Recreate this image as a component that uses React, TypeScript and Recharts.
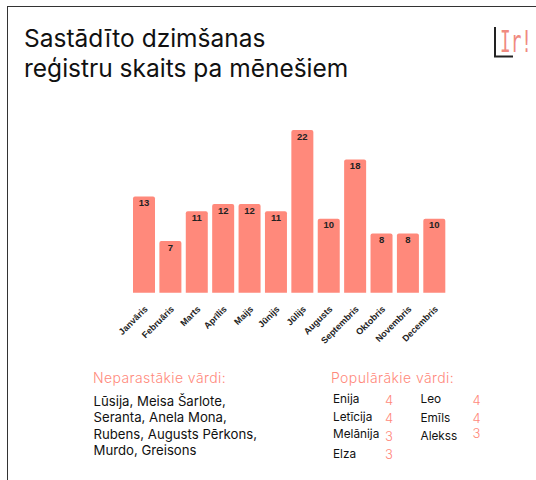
import React from "react";
import { BarChart, Bar, XAxis, YAxis, LabelList } from "recharts";

const months = ["Janvāris", "Februāris", "Marts", "Aprīlis", "Maijs", "Jūnijs", "Jūlijs", "Augusts", "Septembris", "Oktobris", "Novembris", "Decembris"];
const counts = [13, 7, 11, 12, 12, 11, 22, 10, 18, 8, 8, 10];

const titleLines = ["Sastādīto dzimšanas", "reģistru skaits pa mēnešiem"];
const rareTitle = "Neparastākie vārdi:";
const rareLines = ["Lūsija, Meisa Šarlote,", "Seranta, Anela Mona,", "Rubens, Augusts Pērkons,", "Murdo, Greisons"];
const popularTitle = "Populārākie vārdi:";
const popularNamesA = ["Enija", "Letīcija", "Melānija", "Elza"];
const popularCountsA = [4, 4, 3, 3];
const popularNamesB = ["Leo", "Emīls", "Alekss"];
const popularCountsB = [4, 4, 3];

const data = months.map((m, i) => ({ month: m, value: counts[i] }));

const SALMON = "#ff897b";
const TEXT_FONT = "Inter, 'DejaVu Sans', sans-serif";

const MonthTick = (props: any) => {
  const { x, y, payload } = props;
  return (
    <text
      x={x + 4}
      y={y + 9}
      transform={`rotate(-45, ${x + 4}, ${y + 9})`}
      textAnchor="end"
      fontSize={9}
      fontWeight="bold"
      fontFamily="'Liberation Sans', Arial, sans-serif"
      fill="#222"
    >
      {payload.value}
    </text>
  );
};

export default function App() {
  const nameRowsA = [402.7, 420.7, 438.3, 458.3];
  const numRowsA = [404.5, 422.5, 440.5, 459];
  const nameRowsB = [402.7, 421.7, 440];
  const numRowsB = [405, 422.5, 437.5];
  return (
    <div style={{ position: "absolute", left: 0, top: 0, width: 536, height: 480, overflow: "hidden", background: "#fff" }}>
      <div style={{ position: "absolute", left: 7, top: 6, width: 700, height: 700, border: "1.3px solid #333", boxSizing: "border-box" }} />
      <svg width={536} height={480} style={{ position: "absolute", left: 0, top: 0 }}>
        {titleLines.map((t, i) => (
          <text key={t} x={24} y={47 + i * 29.5} fontSize={24.5} fontFamily={TEXT_FONT} fill="#111">
            {t}
          </text>
        ))}
        <polyline points="495,27 495,56.5 513,56.5" fill="none" stroke="#222" strokeWidth={2} />
        <text x={500} y={51.5} fontSize={30} fontFamily="'DejaVu Sans Mono', monospace" fill="#f08a80" textLength={32} lengthAdjust="spacingAndGlyphs">
          Ir!
        </text>
        <text x={93} y={382.7} fontSize={14} fontWeight={300} letterSpacing={0.4} fontFamily={TEXT_FONT} fill={SALMON}>
          {rareTitle}
        </text>
        {rareLines.map((t, i) => (
          <text key={t} x={93.5} y={406 + i * 16.3} fontSize={13.2} fontFamily={TEXT_FONT} fill="#111">
            {t}
          </text>
        ))}
        <text x={331} y={382.7} fontSize={14} fontWeight={300} letterSpacing={0.4} fontFamily={TEXT_FONT} fill={SALMON}>
          {popularTitle}
        </text>
        {popularNamesA.map((n, i) => (
          <text key={n} x={333} y={nameRowsA[i]} fontSize={11.8} fontFamily={TEXT_FONT} fill="#111">
            {n}
          </text>
        ))}
        {popularCountsA.map((c, i) => (
          <text key={i} x={385} y={numRowsA[i]} fontSize={13} fontWeight={300} fontFamily={TEXT_FONT} fill={SALMON}>
            {c}
          </text>
        ))}
        {popularNamesB.map((n, i) => (
          <text key={n} x={420.5} y={nameRowsB[i]} fontSize={11.8} fontFamily={TEXT_FONT} fill="#111">
            {n}
          </text>
        ))}
        {popularCountsB.map((c, i) => (
          <text key={i} x={472.5} y={numRowsB[i]} fontSize={13} fontWeight={300} fontFamily={TEXT_FONT} fill={SALMON}>
            {c}
          </text>
        ))}
      </svg>
      <div style={{ position: "absolute", left: 0, top: 0 }}>
        <BarChart
          width={536}
          height={480}
          data={data}
          margin={{ top: 130, right: 88.3, left: 131, bottom: 127.3 }}
          barSize={22}
        >
          <YAxis hide domain={[0, 22]} />
          <XAxis dataKey="month" axisLine={false} tickLine={false} interval={0} height={60} tick={<MonthTick />} />
          <Bar dataKey="value" fill={SALMON} radius={[2, 2, 0, 0]} isAnimationActive={false}>
            <LabelList
              dataKey="value"
              position="insideTop"
              offset={3}
              fontSize={9.5}
              fontWeight="bold"
              fontFamily="'Liberation Sans', Arial, sans-serif"
              fill="#222"
            />
          </Bar>
        </BarChart>
      </div>
    </div>
  );
}
